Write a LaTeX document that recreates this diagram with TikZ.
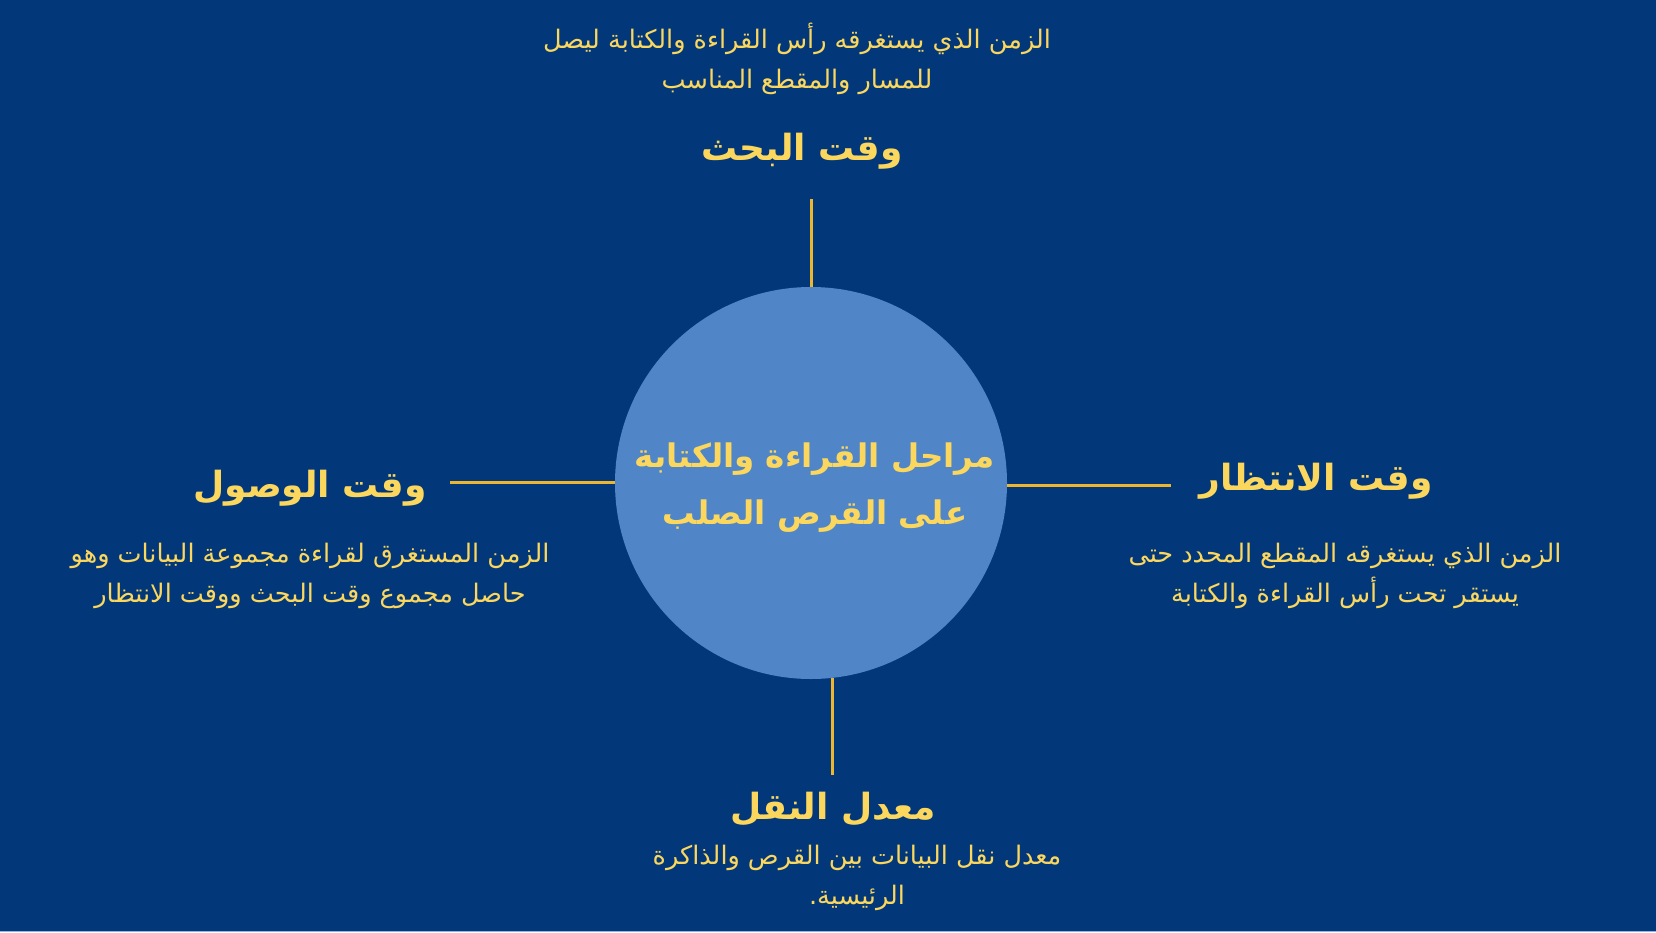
\documentclass[tikz,border=0pt]{standalone}
\usepackage{fontspec}
\TeXXeTstate=1
\newfontfamily\arabicfont[Script=Arabic]{DejaVu Sans}
\definecolor{bgblue}{HTML}{02387A}
\definecolor{circblue}{HTML}{5086C8}
\definecolor{txtyellow}{HTML}{FCD75E}
\definecolor{lineyellow}{HTML}{EDB631}
\definecolor{edgeblue}{HTML}{8DB8E6}
\tikzset{
  desc/.style={text=txtyellow, align=center, inner sep=0pt, font=\arabicfont\fontsize{25.5}{40}\selectfont},
  ttl/.style={text=txtyellow, align=center, inner sep=0pt, font=\arabicfont\bfseries\fontsize{36}{40}\selectfont},
  spoke/.style={draw=lineyellow, line width=3pt},
  hub/.style={circle, fill=circblue, minimum size=392pt, inner sep=0pt, text=txtyellow, align=center, font=\arabicfont\bfseries\fontsize{32.5}{57}\selectfont}
}
\begin{document}
\begin{tikzpicture}[x=1pt,y=-1pt]
\fill[bgblue] (0,0) rectangle (1656,932);
\fill[edgeblue] (0,930.5) rectangle (1656,932);
\useasboundingbox (0,0) rectangle (1656,932);

\node[hub] (c) at (811,483) {};
\node[text=txtyellow, align=center, inner sep=0pt, font=\arabicfont\bfseries\fontsize{32.5}{57}\selectfont] (ct) at (815,488) {\beginR مراحل القراءة والكتابة\endR\\\beginR على القرص الصلب\endR};

% top
\node[desc] (d1) at (797,59) {\beginR الزمن الذي يستغرقه رأس القراءة والكتابة ليصل\endR\\\beginR للمسار والمقطع المناسب\endR};
\node[ttl] (t1) at (802,151) {\beginR وقت البحث\endR};
\coordinate (e1) at (811,199);
\draw[spoke] (c.north) -- (e1);

% right
\node[ttl] (t2) at (1316,481) {\beginR وقت الانتظار\endR};
\node[desc] (d2) at (1345,576) {\beginR الزمن الذي يستغرقه المقطع المحدد حتى\endR\\\beginR يستقر تحت رأس القراءة والكتابة\endR};
\coordinate (e2) at (1171,485.5);
\draw[spoke] (c.east |- e2) -- (e2);

% left
\node[ttl] (t3) at (310,488) {\beginR وقت الوصول\endR};
\node[desc] (d3) at (310,576) {\beginR الزمن المستغرق لقراءة مجموعة البيانات وهو\endR\\\beginR حاصل مجموع وقت البحث ووقت الانتظار\endR};
\coordinate (e3) at (450,482);
\draw[spoke] (c.west |- e3) -- (e3);

% bottom
\coordinate (e4) at (832,775);
\coordinate (s4) at (832,678);
\draw[spoke] (s4) -- (e4);
\node[ttl] (t4) at (833,809) {\beginR معدل النقل\endR};
\node[desc] (d4) at (857,878) {\beginR معدل نقل البيانات بين القرص والذاكرة\endR\\\beginR الرئيسية.\endR};
\end{tikzpicture}
\end{document}
